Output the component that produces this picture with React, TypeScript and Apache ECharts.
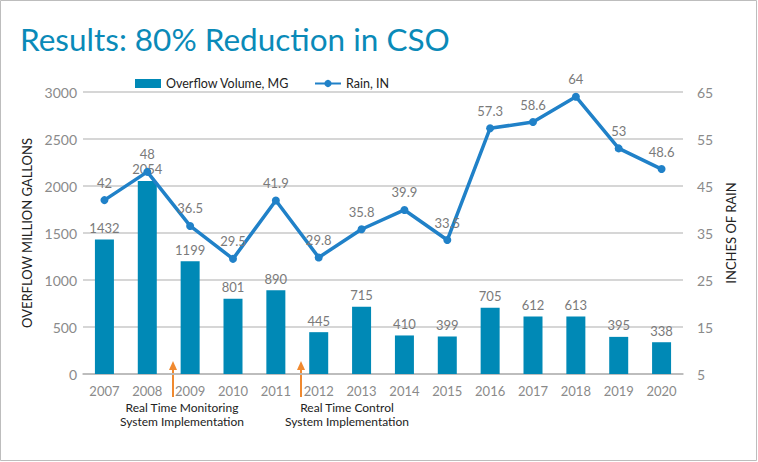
import React, { useEffect, useRef } from "react";
import * as echarts from "echarts";

const years = ["2007","2008","2009","2010","2011","2012","2013","2014","2015","2016","2017","2018","2019","2020"];
const overflow = [1432, 2054, 1199, 801, 890, 445, 715, 410, 399, 705, 612, 613, 395, 338];
const rain = [42, 48, 36.5, 29.5, 41.9, 29.8, 35.8, 39.9, 33.5, 57.3, 58.6, 64, 53, 48.6];
const annotations = [
  { lines: ["Real Time Monitoring", "System Implementation"], x: 173, tx: 182 },
  { lines: ["Real Time Control", "System Implementation"], x: 301, tx: 347 },
];

const FONT = "Lato, 'Noto Sans', sans-serif";
const ORANGE = "#f0892f";

export default function App() {
  const ref = useRef<HTMLDivElement>(null);
  useEffect(() => {
    document.body.style.margin = "0";
    const chart = echarts.init(ref.current!, null, { renderer: "svg" });
    const graphics: any[] = [
      { type: "rect", shape: { x: 0.5, y: 0.5, width: 756, height: 460 }, style: { fill: "none", stroke: "#bdbdbd", lineWidth: 1 } },
      { type: "text", x: 20, y: 23, style: { text: "Results: 80% Reduction in CSO", fill: "#0a8ab8", font: `31.5px ${FONT}` } },
    ];
    annotations.forEach((a) => {
      graphics.push({ type: "line", shape: { x1: a.x, y1: 397, x2: a.x, y2: 368 }, style: { stroke: ORANGE, lineWidth: 2 } });
      graphics.push({ type: "polygon", shape: { points: [[a.x - 4, 370], [a.x + 4, 370], [a.x, 361]] }, style: { fill: ORANGE } });
      a.lines.forEach((ln, i) => {
        graphics.push({
          type: "text", x: a.tx, y: 401 + i * 14,
          style: { text: ln, fill: "#222", font: `12px ${FONT}`, align: "center" },
        });
      });
    });
    chart.setOption({
      animation: false,
      textStyle: { fontFamily: FONT },
      graphic: graphics,
      legend: {
        top: 72, left: 130, itemGap: 25, itemWidth: 26, itemHeight: 9,
        textStyle: { color: "#222", fontSize: 12.5, fontFamily: FONT },
        data: [
          { name: "Overflow Volume, MG", icon: "rect" },
          { name: "Rain, IN" },
        ],
      },
      grid: { left: 83, right: 75, top: 92, bottom: 88 },
      xAxis: {
        type: "category", data: years,
        axisTick: { show: false },
        axisLine: { lineStyle: { color: "#b5b5b5", width: 1.5 } },
        axisLabel: { color: "#8a8a8a", fontSize: 13, margin: 10, fontFamily: FONT },
      },
      yAxis: [
        {
          type: "value", min: 0, max: 3000, interval: 500,
          name: "OVERFLOW MILLION GALLONS", nameLocation: "middle", nameGap: 46, nameRotate: 90,
          nameTextStyle: { color: "#222", fontSize: 13, fontFamily: FONT },
          axisLabel: { color: "#8a8a8a", fontSize: 14, margin: 6, fontFamily: FONT, formatter: (v: number) => String(v) },
          splitLine: { lineStyle: { color: "#c8c8c8", width: 1.5 } },
          axisLine: { show: false }, axisTick: { show: false },
        },
        {
          type: "value", min: 5, max: 65, interval: 10, position: "right",
          name: "INCHES OF RAIN", nameLocation: "middle", nameGap: 36, nameRotate: 90,
          nameTextStyle: { color: "#222", fontSize: 13, fontFamily: FONT },
          axisLabel: { color: "#8a8a8a", fontSize: 14, margin: 14, fontFamily: FONT },
          splitLine: { show: false },
          axisLine: { show: false }, axisTick: { show: false },
        },
      ],
      series: [
        {
          name: "Overflow Volume, MG", type: "bar", data: overflow, barWidth: 19,
          itemStyle: { color: "#0089b6" },
          label: { show: true, position: "top", distance: 5, color: "#7a7a7a", fontSize: 13, fontFamily: FONT },
        },
        {
          name: "Rain, IN", type: "line", yAxisIndex: 1, data: rain,
          symbol: "circle", symbolSize: 8,
          lineStyle: { color: "#2081c8", width: 3.5 },
          itemStyle: { color: "#2081c8" },
          label: { show: true, position: "top", distance: 7, color: "#7a7a7a", fontSize: 13, fontFamily: FONT },
        },
      ],
    });
    return () => chart.dispose();
  }, []);
  return <div ref={ref} style={{ width: 758, height: 462 }} />;
}
